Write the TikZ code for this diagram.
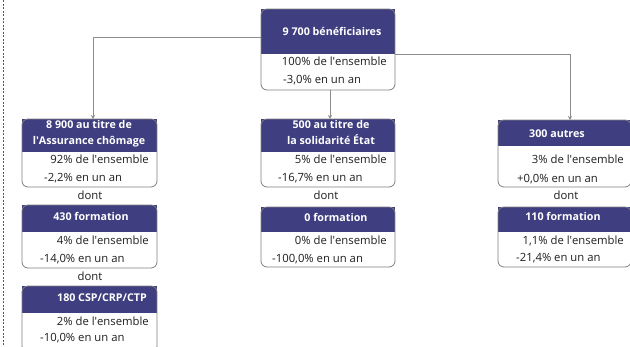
\documentclass[tikz,border=0pt]{standalone}
\usepackage{fontspec}
\setmainfont{Open Sans}
\usetikzlibrary{arrows.meta}
\definecolor{navy}{RGB}{62,62,128}
\definecolor{bord}{RGB}{128,128,128}
\definecolor{connc}{RGB}{140,140,140}
\definecolor{txt}{RGB}{30,30,30}
\newcommand\aq{\textquotesingle}
\newcommand\drawbox[6]{%
  \fill[navy] (#2,#3) rectangle (#4,#6);
  \node[boxframe, minimum width={(#4-#2)*1pt}, minimum height={(#5-#3)*1pt}] (#1) at ({(#2+#4)/2},{(#3+#5)/2}) {};
}
\begin{document}
\begin{tikzpicture}[x=1pt,y=-1pt,
  boxframe/.style={draw=bord, line width=0.8pt, rounded corners=6pt, inner sep=0pt, outer sep=0pt},
  hdr/.style={text=white, font=\fontsize{10.7}{15}\selectfont\bfseries, inner sep=0pt},
  stat/.style={font=\fontsize{11.3}{12}\selectfont, inner sep=0pt, text=txt},
  conn/.style={draw=connc, line width=0.8pt, -{Stealth[length=4pt,width=4pt]}},
]
\useasboundingbox (0,0) rectangle (630,346);
\fill[white] (0,0) rectangle (630,346);
% left dotted line
\draw[draw=black!65, line width=0.8pt, dash pattern=on 2pt off 1.5pt] (3,0) -- (3,346);

% boxes
\drawbox{top}{261}{9}{395}{90}{54}
\drawbox{ca}{22}{119}{157}{187}{152}
\drawbox{cb}{261}{119}{395}{187}{152}
\drawbox{cc}{498}{120}{631}{187}{146}
\drawbox{fa}{22}{205}{157}{268}{232}
\drawbox{fb}{261}{207}{395}{267}{232}
\drawbox{fc}{498}{207}{631}{267}{232}
\drawbox{ga}{22}{286}{157}{352}{313}

% headers
\node[hdr, anchor=mid] (toph) at (332,33) {9 700 bénéficiaires};
\node[hdr, anchor=mid] (cah1) at (89,126) {8 900 au titre de};
\node[hdr, anchor=mid] (cah2) at (89,142) {l\aq Assurance chômage};
\node[hdr, anchor=mid] (cbh1) at (331,126) {500 au titre de};
\node[hdr, anchor=mid] (cbh2) at (331,142) {la solidarité État};
\node[hdr, anchor=mid] (cch) at (557,135) {300 autres};
\node[hdr, anchor=mid] (fah) at (91,218) {430 formation};
\node[hdr, anchor=mid] (fbh) at (336,219) {0 formation};
\node[hdr, anchor=mid] (fch) at (563,218) {110 formation};
\node[hdr, anchor=mid] (gah) at (102,299) {180 CSP/CRP/CTP};

% stats
\node[stat, anchor=mid east] (tops1) at (387,63) {100\% de l\aq ensemble};
\node[stat, anchor=mid west] (tops2) at (283,81) {-3,0\% en un an};
\node[stat, anchor=mid east] (cas1) at (149,161) {92\% de l\aq ensemble};
\node[stat, anchor=mid west] (cas2) at (44,179) {-2,2\% en un an};
\node[stat, anchor=mid east] (cbs1) at (387,161) {5\% de l\aq ensemble};
\node[stat, anchor=mid west] (cbs2) at (278,179) {-16,7\% en un an};
\node[stat, anchor=mid east] (ccs1) at (624,161) {3\% de l\aq ensemble};
\node[stat, anchor=mid west] (ccs2) at (517,180) {+0,0\% en un an};
\node[stat, anchor=mid east] (fas1) at (149,242) {4\% de l\aq ensemble};
\node[stat, anchor=mid west] (fas2) at (40,260) {-14,0\% en un an};
\node[stat, anchor=mid east] (fbs1) at (387,242) {0\% de l\aq ensemble};
\node[stat, anchor=mid west] (fbs2) at (272,260) {-100,0\% en un an};
\node[stat, anchor=mid east] (fcs1) at (624,242) {1,1\% de l\aq ensemble};
\node[stat, anchor=mid west] (fcs2) at (516,259) {-21,4\% en un an};
\node[stat, anchor=mid east] (gas1) at (149,323) {2\% de l\aq ensemble};
\node[stat, anchor=mid west] (gas2) at (40,339) {-10,0\% en un an};

% dont
\node[stat, anchor=mid] (donta) at (90,197) {dont};
\node[stat, anchor=mid] (dontb) at (326,197) {dont};
\node[stat, anchor=mid] (dontc) at (566,197) {dont};
\node[stat, anchor=mid] (dontd) at (90,278) {dont};

% connectors
\draw[conn] ([yshift=12.5pt]top.west) -| ([xshift=3.5pt]ca.north);
\draw[conn] ([yshift=-4.5pt]top.east) -| ([xshift=5.5pt]cc.north);
\draw[conn] ([xshift=2pt]top.south) -- ([xshift=2pt]cb.north);
\end{tikzpicture}
\end{document}
